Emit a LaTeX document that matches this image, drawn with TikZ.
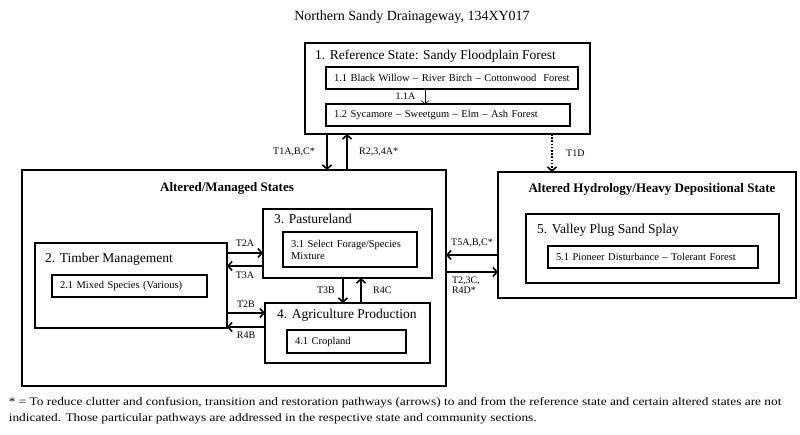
\documentclass[tikz,border=0pt]{standalone}
\usepackage{fontspec}
\setmainfont{Liberation Serif}
\usetikzlibrary{arrows.meta}

\begin{document}
\begin{tikzpicture}[x=1pt, y=-1pt]
    \tikzstyle{group}=[draw, line width=2.6pt, anchor=north west, inner sep=0pt, outer sep=0pt];
    \tikzstyle{state}=[draw, line width=1.8pt, anchor=north west, inner sep=0pt, outer sep=0pt];
    \tikzstyle{comm}=[draw, line width=1.1pt, anchor=north west, align=left, inner xsep=8pt, inner ysep=0pt, outer sep=0pt, font=\fontsize{10.5}{12}\selectfont];
    \tikzstyle{stitle}=[anchor=base west, inner sep=0pt, font=\fontsize{13.5}{15}\selectfont];
    \tikzstyle{gtitle}=[anchor=base, inner sep=0pt, font=\bfseries\fontsize{13}{15}\selectfont];
    \tikzstyle{arr}=[line width=1.6pt, -{Straight Barb[length=4pt,width=9pt]}, font=\fontsize{10}{10}\selectfont];
    \useasboundingbox (0,0) rectangle (800,435);

    \node[font=\fontsize{14}{16}\selectfont, anchor=base] (title) at (412,21) {Northern Sandy Drainageway, 134XY017};

    % reference state
    \node[state, minimum width=285pt, minimum height=91pt] (ref) at (305,43) {};
    \node[stitle] (reft) at (315,60) {1. Reference State: Sandy Floodplain Forest};
    \node[comm, text width=236pt, minimum height=22pt] (c11) at (326,67) {1.1 Black Willow -- River Birch -- Cottonwood~ Forest};
    \node[comm, text width=228pt, minimum height=22pt] (c12) at (326,104) {1.2 Sycamore -- Sweetgum -- Elm -- Ash Forest};

    % altered / managed
    \node[group, minimum width=424pt, minimum height=216pt] (mgd) at (22,170) {};
    \node[gtitle] (mgdt) at (227,192) {Altered/Managed States};
    \node[state, minimum width=192pt, minimum height=85pt] (tm) at (35,243) {};
    \node[stitle] (tmt) at (45,263) {2. Timber Management};
    \node[comm, text width=139pt, minimum height=22pt] (c21) at (52,275) {2.1 Mixed Species (Various)};
    \node[state, minimum width=169pt, minimum height=69pt] (pl) at (263,209) {};
    \node[stitle] (plt) at (274,224) {3. Pastureland};
    \node[comm, text width=118pt, minimum height=35pt] (c31) at (283,232) {3.1 Select Forage/Species\\Mixture};
    \node[state, minimum width=165pt, minimum height=60pt] (ag) at (265,303) {};
    \node[stitle] (agt) at (277,319) {4. Agriculture Production};
    \node[comm, text width=103pt, minimum height=23pt] (c41) at (287,330) {4.1 Cropland};

    % altered hydrology
    \node[group, minimum width=298pt, minimum height=126pt] (hyd) at (498,172) {};
    \node[gtitle] (hydt) at (652,193) {Altered Hydrology/Heavy Depositional State};
    \node[state, minimum width=253pt, minimum height=69pt] (vp) at (526,214) {};
    \node[stitle] (vpt) at (537,234) {5. Valley Plug Sand Splay};
    \node[comm, text width=194pt, minimum height=22pt] (c51) at (548,246) {5.1 Pioneer Disturbance -- Tolerant Forest};

    \node[anchor=north west, inner sep=0pt, align=left, xscale=1.16, transform shape, font=\fontsize{11.5}{16}\selectfont] (note) at (8.6,397)
      {* = To reduce clutter and confusion, transition and restoration pathways (arrows) to and from the reference state and certain altered states are not\\
       indicated. Those particular pathways are addressed in the respective state and community sections.};

    \draw[line width=0.6pt, -{Straight Barb[length=3pt,width=8pt]}, font=\fontsize{10}{10}\selectfont]
      (c11.south -| 425,0) -- node[left=6pt] {1.1A} (c12.north -| 425,0);

    \path[arr]
    (ref.south -| 327,0) edge node[left=8pt] {T1A,B,C*} (mgd.north -| 327,0)
    (mgd.north -| 347,0) edge node[right=8pt] {R2,3,4A*} (ref.south -| 347,0)
    (ref.south -| 552,0) edge[line width=1.6pt, dash pattern=on 1.6pt off 1.6pt] node[right=10pt] {T1D} (hyd.north -| 552,0)
    (tm.east |- 0,253) edge node[above=2pt] {T2A} (pl.west |- 0,253)
    (pl.west |- 0,266) edge node[below=2pt] {T3A} (tm.east |- 0,266)
    (tm.east |- 0,313) edge node[above=1pt] {T2B} (ag.west |- 0,313)
    (ag.west |- 0,327) edge node[below=1pt] {R4B} (tm.east |- 0,327)
    (pl.south -| 343,0) edge node[left=4pt] {T3B} (ag.north -| 343,0)
    (ag.north -| 361,0) edge node[right=8pt] {R4C} (pl.south -| 361,0)
    (hyd.west |- 0,255) edge node[above=4pt] {T5A,B,C*} (mgd.east |- 0,255)
    (mgd.east |- 0,272) edge node[below=1pt, align=left, text width=40pt] {T2,3C,\\R4D*} (hyd.west |- 0,272);
\end{tikzpicture}
\end{document}
